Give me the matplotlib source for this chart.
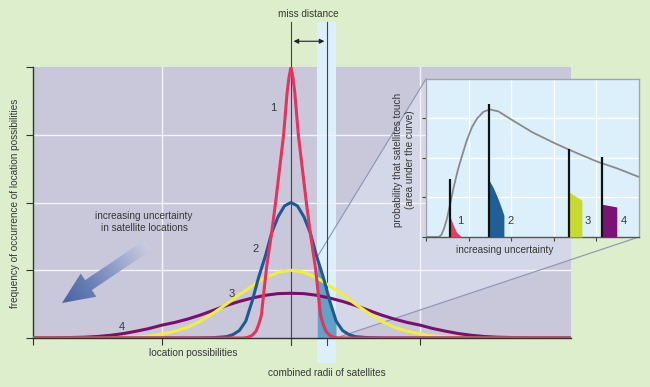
import numpy as np
import matplotlib
matplotlib.use("Agg")
import matplotlib.pyplot as plt
from matplotlib.patches import Rectangle, Polygon, FancyArrow
from matplotlib.colors import LinearSegmentedColormap

plt.rcParams["font.family"] = ["Liberation Sans Narrow", "Liberation Sans", "DejaVu Sans"]

# main chart: half curves (x >= 0), mirrored around the centre
red_x = [0, 0.015, 0.03, 0.057, 0.085, 0.116, 0.15, 0.19, 0.21, 0.229, 0.25, 0.271, 0.30, 0.333, 0.37, 2.2]
red_y = [4.0, 3.85, 3.62, 3.0, 2.55, 2.05, 1.55, 1.03, 0.68, 0.34, 0.2, 0.1, 0.04, 0.01, 0, 0]

blue_x = [0, 0.05, 0.1, 0.15, 0.2, 0.25, 0.3, 0.35, 0.4, 0.45, 0.5, 0.6, 0.75, 2.2]
blue_y = [2.0, 1.95, 1.79, 1.55, 1.2, 0.9, 0.55, 0.25, 0.11, 0.05, 0.02, 0.005, 0, 0]

yellow_x = [0, 0.1, 0.2, 0.3, 0.4, 0.5, 0.6, 0.7, 0.8, 0.9, 1.0, 1.1, 1.2, 1.35, 1.5, 2.2]
yellow_y = [1.0, 0.97, 0.89, 0.77, 0.64, 0.5, 0.37, 0.25, 0.16, 0.1, 0.06, 0.03, 0.015, 0.005, 0, 0]

purple_x = [0, 0.1, 0.2, 0.3, 0.4, 0.5, 0.6, 0.7, 0.8, 0.9, 1.0, 1.1, 1.2, 1.3, 1.4, 1.5, 1.6, 1.8, 2.0, 2.2]
purple_y = [0.66, 0.655, 0.63, 0.59, 0.54, 0.48, 0.41, 0.34, 0.28, 0.23, 0.19, 0.14, 0.1, 0.065, 0.04, 0.022, 0.012, 0.003, 0, 0]

curve_labels = ["1", "2", "3", "4"]
miss_distance = 0.279
radii_band = (0.2016, 0.349)

# inset: probability vs uncertainty
prob_x = [0, 0.3, 0.36, 0.42, 0.49, 0.57, 0.66, 0.75, 0.86, 0.96, 1.08, 1.2, 1.35, 1.5, 1.7, 2.04, 2.5, 3.03, 3.55, 4.04, 4.48, 5.0]
prob_y = [0, 0, 0.05, 0.2, 0.45, 0.85, 1.3, 1.7, 2.1, 2.45, 2.78, 3.0, 3.17, 3.23, 3.18, 2.95, 2.65, 2.37, 2.12, 1.9, 1.74, 1.52]
marker_x = [0.57, 1.48, 3.36, 4.13]
marker_top = [1.47, 3.36, 2.22, 2.02]
area_x = [[0.57, 0.65, 0.72, 0.84], [1.48, 1.58, 1.68, 1.76, 1.83], [3.36, 3.66], [4.13, 4.48]]
area_y = [[0.5, 0.28, 0.12, 0.0], [1.44, 1.25, 1.0, 0.77, 0.55], [1.14, 0.93], [0.83, 0.76]]

colors = ["#E8325E", "#1D5A94", "#EEF03A", "#7A0F70"]
fill_colors = ["#E83A62", "#1F5F96", "#C6DB2E", "#7C1275"]
bg = "#DCEECB"
plot_bg = "#C9C8DB"
txt = "#383838"


def mirror(xh, yh):
    xh = np.asarray(xh)
    yh = np.asarray(yh)
    return np.r_[-xh[::-1], xh[1:]], np.r_[yh[::-1], yh[1:]]


fig = plt.figure(figsize=(6.5, 3.87), dpi=100, facecolor=bg)
W, H = 650, 387

ax = fig.add_axes([33 / W, (H - 338) / H, 538 / W, 271 / H])
ax.set_facecolor(plot_bg)
ax.set_xlim(-2.0, 2.171)
ax.set_ylim(0, 4)
for s in ["top", "right"]:
    ax.spines[s].set_visible(False)
for s in ["left", "bottom"]:
    ax.spines[s].set_color("#333333")
    ax.spines[s].set_linewidth(1)
ax.set_xticks([-2, -1, 0, 1])
ax.set_yticks([0, 1, 2, 3, 4])
ax.tick_params(length=5, width=0.8, color="#333333", direction="out",
               labelbottom=False, labelleft=False)
for gx in [-1, 1]:
    ax.axvline(gx, color="#F4F4F8", lw=1.0, zorder=1)
for gy in [1, 2, 3]:
    ax.axhline(gy, color="#F4F4F8", lw=1.0, zorder=1)

# inset placement (main data coords)
ins_l, ins_b, ins_w, ins_h = 1.0465, 1.491, 1.651, 2.332

bx, by = mirror(blue_x, blue_y)
a_top = np.interp(radii_band[0], bx, by)

# zoom cone
cone = Polygon([(radii_band[0], a_top), (ins_l, ins_b + ins_h), (ins_l + ins_w, ins_b),
                (radii_band[1], 0)], closed=True, fc="#D4D7E7", ec="none", zorder=0.6)
ax.add_patch(cone)
ax.plot([radii_band[0], ins_l], [a_top, ins_b + ins_h], color="#8C93B3", lw=0.8,
        zorder=1.5, clip_on=False)
ax.plot([radii_band[1], ins_l + ins_w], [0, ins_b], color="#8C93B3", lw=0.8,
        zorder=1.5, clip_on=False)

# combined radii band
ax.add_patch(Rectangle((radii_band[0], -0.37), radii_band[1] - radii_band[0], 5.03,
                       fc="#DCEFFA", ec="none", zorder=0.8, clip_on=False))
sel = (bx > radii_band[0]) & (bx < radii_band[1])
fx = np.r_[radii_band[0], bx[sel], radii_band[1]]
fy = np.r_[a_top, by[sel], np.interp(radii_band[1], bx, by)]
ax.fill_between(fx, 0, fy, color="#5FA3C6", lw=0, zorder=2)

ax.plot([0, 0], [-0.1, 4.66], color="#444444", lw=0.8, zorder=1.8, clip_on=False)
ax.plot([miss_distance, miss_distance], [-0.1, 4.66], color="#444444", lw=0.8,
        zorder=1.8, clip_on=False)
ax.annotate("", xy=(0.02, 4.38), xytext=(miss_distance - 0.02, 4.38),
            arrowprops=dict(arrowstyle="<|-|>", color="#222222", lw=0.8,
                            mutation_scale=7, shrinkA=0, shrinkB=0),
            annotation_clip=False)

curves = [(purple_x, purple_y, colors[3]), (yellow_x, yellow_y, colors[2]),
          (blue_x, blue_y, colors[1]), (red_x, red_y, colors[0])]
for cx, cy, c in curves:
    mx, my = mirror(cx, cy)
    ax.plot(mx, my, color=c, lw=2.2, zorder=3, solid_capstyle="round")

# inset
ins = ax.inset_axes([ins_l, ins_b, ins_w, ins_h], transform=ax.transData, zorder=5)
ins.set_facecolor("#DCF0FB")
ins.set_xlim(0, 5)
ins.set_ylim(0, 4)
ins.set_xticks([0, 1, 2, 3, 4])
ins.set_yticks([0, 1, 2, 3])
ins.tick_params(length=3, width=0.8, color="#444444", direction="out",
                labelbottom=False, labelleft=False)
for s in ins.spines.values():
    s.set_color("#A2A4AE")
    s.set_linewidth(1)
ins.spines["bottom"].set_color("#555555")
for gx in [1, 2, 3, 4]:
    ins.axvline(gx, color="white", lw=1, zorder=0.5)
for gy in [1, 2, 3]:
    ins.axhline(gy, color="white", lw=1, zorder=0.5)
ins.plot(prob_x, prob_y, color="#8A8A8A", lw=1.3, zorder=2)
for i in range(4):
    ins.fill_between(area_x[i], 0, area_y[i], color=fill_colors[i], lw=0, zorder=3)
    ins.vlines(marker_x[i], 0, marker_top[i], color="#111111", lw=1.6, zorder=4)

# gradient arrow
ov = fig.add_axes([0, 0, 1, 1], zorder=10)
ov.axis("off")
arr = FancyArrow(148, 245, -86, 58, width=12, head_width=28, head_length=32,
                 length_includes_head=True, fc="none", ec="none")
ov.add_patch(arr)
gx, gy = np.meshgrid(np.linspace(50, 160, 220), np.linspace(230, 315, 170))
t = ((gx - 148) * -86 + (gy - 245) * 58) / (86 ** 2 + 58 ** 2)
cmap = LinearSegmentedColormap.from_list("arr", ["#CBCDE0", "#9AA6CC", "#6A80B6", "#4862A0"])
im = ov.imshow(t, extent=(50, 160, 315, 230), cmap=cmap, vmin=0, vmax=1,
               aspect="auto", interpolation="bilinear")
im.set_clip_path(arr)
ov.set_xlim(0, W)
ov.set_ylim(H, 0)

fs = 7.2
def ftext(x, y, s, **kw):
    kw.setdefault("size", fs)
    kw.setdefault("color", txt)
    fig.text(x / W, 1 - y / H, s, ha="center", va="center", **kw)

ftext(15, 203, "frequency of occurrence of location possibilities", rotation=90)
ftext(193, 353, "location possibilities")
ftext(327, 373, "combined radii of satellites")
ftext(308, 14, "miss distance")
ftext(144, 222, "increasing uncertainty\nin satellite locations", linespacing=1.2)
ftext(404, 160, "probability that satellites touch\n(area under the curve)",
      rotation=90, linespacing=1.15)
ftext(505, 250, "increasing uncertainty")
for (x, y), s in zip([(273, 108), (256, 249), (232, 294), (122, 327)], curve_labels):
    ftext(x, y, s, size=8)
for (x, y), s in zip([(460, 221), (511, 221), (588, 221), (624, 221)], curve_labels):
    ftext(x, y, s, size=8)

fig.savefig("out.png", dpi=100, facecolor=bg)
